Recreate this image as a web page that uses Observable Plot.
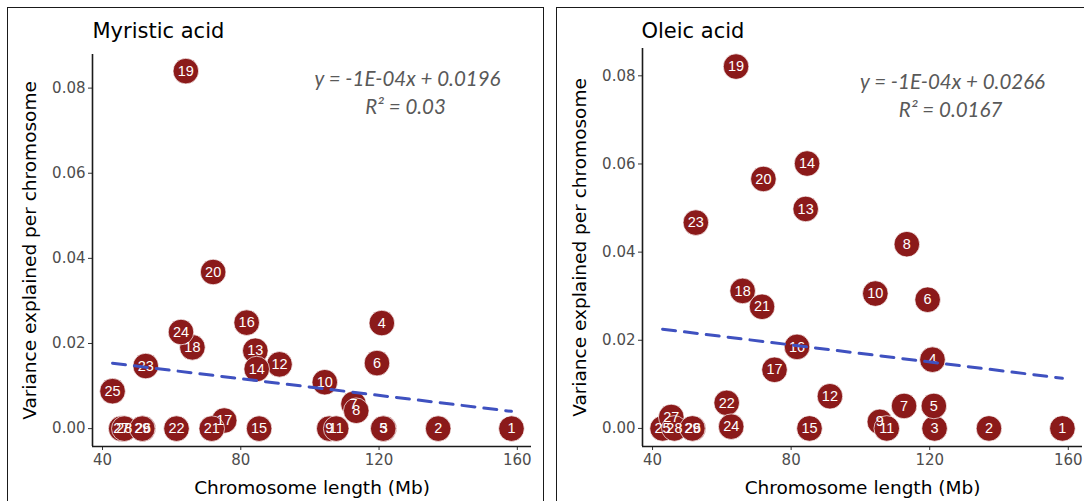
<!DOCTYPE html>
<html>
<head>
<meta charset="utf-8">
<script src="https://cdn.jsdelivr.net/npm/d3@7"></script>
<script src="https://cdn.jsdelivr.net/npm/@observablehq/plot@0.6"></script>
<style>
  html, body { margin: 0; padding: 0; background: #fff; }
  #page { position: relative; width: 1084px; height: 501px; overflow: hidden; background: #fff; }
  .box { position: absolute; border: 1.5px solid #1a1a1a; border-bottom: none; }
  .chart { position: absolute; top: 0; }
</style>
</head>
<body>
<div id="page">
  <div class="box" style="left:7px; top:7px; width:535px; height:510px;"></div>
  <div class="box" style="left:556px; top:7px; width:540px; height:510px;"></div>
  <div class="chart" id="left" style="left:0px;"></div>
  <div class="chart" id="right" style="left:545px;"></div>
</div>
<script>
// ---- data ----
const chromosomes = ["1","2","3","4","5","6","7","8","9","10","11","12","13","14","15","16","17","18","19","20","21","22","23","24","25","26","27","28","29"];
const lengthMb   = [158.3,137.1,121.4,120.8,121.2,119.4,112.6,113.4,105.6,104.3,107.6,91.2,84.2,84.6,85.3,81.7,75.2,66.0,64.1,72.0,71.6,61.4,52.5,62.7,42.9,51.7,45.4,46.3,51.5];
const myristic   = [0,0,0,0.0248,0,0.0154,0.0058,0.0042,0,0.0109,0,0.0151,0.0183,0.0140,0,0.0249,0.0019,0.0191,0.0840,0.0368,0,0,0.0147,0.0227,0.0088,0,0,0,0];
const oleic      = [0,0,0,0.0156,0.0051,0.0292,0.0051,0.0418,0.0015,0.0306,0,0.0073,0.0498,0.0601,0,0.0185,0.0133,0.0312,0.0821,0.0566,0.0276,0.0058,0.0467,0.0004,0,0,0.0026,0,0];
const xTicks = [40, 80, 120, 160];
const yTicks = [0, 0.02, 0.04, 0.06, 0.08];
const panelTitles = ["Myristic acid", "Oleic acid"];
const equations = ["y = -1E-04x + 0.0196", "y = -1E-04x + 0.0266"];
const rSquared = ["R² = 0.03", "R² = 0.0167"];
const xLabel = "Chromosome length (Mb)";
const yLabel = "Variance explained per chromosome";

const xDomain = [37.1, 164.1];

function makePanel(cfg) {
  const data = chromosomes.map((c, i) => ({chr: c, len: lengthMb[i], v: cfg.values[i]}));
  const font = "DejaVu Sans, Liberation Sans, Arial, sans-serif";
  const labelFont = "Liberation Sans, Arial, sans-serif";
  return Plot.plot({
    width: cfg.width,
    height: 501,
    marginLeft: cfg.marginLeft,
    marginRight: cfg.marginRight,
    marginTop: cfg.marginTop,
    marginBottom: 55,
    style: {fontFamily: font, fontSize: "15px", color: "#4d4d4d", background: "transparent", overflow: "visible"},
    x: {domain: xDomain, ticks: xTicks},
    y: {domain: cfg.yDomain, ticks: yTicks},
    marks: [
      Plot.axisX({ticks: xTicks, tickSize: 4, tickPadding: 4, label: null, stroke: "#333"}),
      Plot.axisY({ticks: yTicks, tickFormat: d3.format(".2f"), tickSize: 4, tickPadding: 3, label: null, stroke: "#333"}),
      Plot.ruleX([xDomain[0]], {stroke: "#1a1a1a", strokeWidth: 1.6}),
      Plot.ruleY([cfg.yDomain[0]], {stroke: "#1a1a1a", strokeWidth: 1.6}),
      Plot.dot(data, {x: "len", y: "v", r: 12.8, fill: "#8b1a1a", stroke: "#fff", strokeWidth: 0.7}),
      Plot.text(data, {x: "len", y: "v", text: "chr", fill: "#fff", fontSize: 14.5, fontFamily: labelFont}),
      Plot.linearRegressionY(data, {x: "len", y: "v", ci: 0, stroke: "#3f51c0", strokeWidth: 3, strokeDasharray: "13,9"}),
      Plot.text([cfg.title], {frameAnchor: "top-left", dx: cfg.titleDx, dy: cfg.titleDy, textAnchor: "start", lineAnchor: "bottom", fontSize: 21, fill: "#000", fontFamily: font}),
      Plot.text([cfg.eq], {frameAnchor: "top-left", dx: cfg.eqDx, dy: cfg.eqDy, textAnchor: "middle", lineAnchor: "bottom", fontSize: 20.5, fontStyle: "italic", fill: "#595959", fontFamily: "Lato, Open Sans, sans-serif"}),
      Plot.text([cfg.r2], {frameAnchor: "top-left", dx: cfg.eqDx - 2, dy: cfg.eqDy + 28, textAnchor: "middle", lineAnchor: "bottom", fontSize: 20.5, fontStyle: "italic", fill: "#595959", fontFamily: "Lato, Open Sans, sans-serif"}),
      Plot.text([yLabel], {frameAnchor: "left", dx: -62, rotate: -90, textAnchor: "middle", lineAnchor: "middle", fontSize: 18.5, fill: "#000", fontFamily: font}),
      Plot.text([xLabel], {frameAnchor: "bottom", dy: 47, textAnchor: "middle", lineAnchor: "bottom", fontSize: 18.5, fill: "#000", fontFamily: font})
    ]
  });
}

document.getElementById("left").appendChild(makePanel({
  values: myristic, title: panelTitles[0], eq: equations[0], r2: rSquared[0],
  width: 545, marginLeft: 92, marginRight: 14, marginTop: 54,
  yDomain: [-0.0042, 0.0879],
  titleDx: 0, titleDy: -17, eqDx: 315, eqDy: 31
}));
document.getElementById("right").appendChild(makePanel({
  values: oleic, title: panelTitles[1], eq: equations[1], r2: rSquared[1],
  width: 539, marginLeft: 97, marginRight: 2, marginTop: 48,
  yDomain: [-0.0041, 0.0862],
  titleDx: -1, titleDy: -11, eqDx: 310, eqDy: 40
}));
</script>
</body>
</html>
